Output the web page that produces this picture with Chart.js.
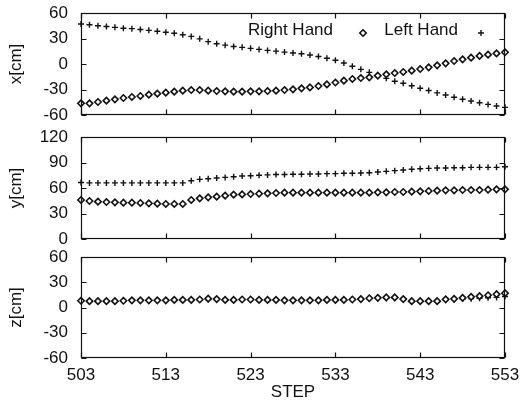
<!DOCTYPE html>
<html>
<head>
<meta charset="utf-8">
<title>Hand position per step</title>
<script src="https://cdn.jsdelivr.net/npm/chart.js@4"></script>
<style>
  html, body { margin: 0; padding: 0; background: #fff; }
  #wrap { position: relative; width: 520px; height: 405px; overflow: hidden; }
  #wrap canvas { position: absolute; left: 0; }
</style>
</head>
<body>
<div id="wrap">
  <canvas id="xChart" width="520" height="125" style="top:0"></canvas>
  <canvas id="yChart" width="520" height="125" style="top:125px"></canvas>
  <canvas id="zChart" width="520" height="155" style="top:250px"></canvas>
</div>
<script>
// steps on the shared horizontal axis
const steps = [
  503, 504, 505, 506, 507, 508, 509, 510, 511, 512,
  513, 514, 515, 516, 517, 518, 519, 520, 521, 522,
  523, 524, 525, 526, 527, 528, 529, 530, 531, 532,
  533, 534, 535, 536, 537, 538, 539, 540, 541, 542,
  543, 544, 545, 546, 547, 548, 549, 550, 551, 552,
  553
];
const stepTicks = [503, 513, 523, 533, 543, 553];
const posTicks = [-60, -30, 0, 30, 60];
const heightTicks = [0, 30, 60, 90, 120];

// x [cm]
const rightX = [
  -46.3, -46.3, -44.7, -43.1, -41.6, -40, -38.8, -37.6, -36.1, -34.9,
  -33.7, -32.5, -31.4, -30.6, -30.6, -31.4, -31.8, -32.2, -32.5, -32.5,
  -32.2, -32.2, -31.8, -31.4, -30.6, -29.8, -28.6, -27.5, -25.9, -24,
  -21.8, -19.6, -17.6, -16.5, -15.7, -13.7, -12.2, -10.6, -9.4, -7.8,
  -5.9, -3.9, -1.6, 0.8, 3.5, 5.5, 7.5, 9.5, 11, 12.5,
  13.8
];
const leftX = [
  47, 46.1, 45, 44.1, 43.1, 42.1, 41.6, 40.6, 39.6, 38.6,
  37.4, 36.2, 34.5, 32.5, 29.6, 26.3, 23.9, 22.2, 20.6, 19.6,
  18.4, 17.2, 16, 15.1, 14, 13, 12, 10.6, 8.8, 6.8,
  4.4, 1.2, -2.7, -6.3, -9.8, -13.7, -16.9, -20.3, -22.7, -25.5,
  -28.6, -31.2, -34, -36.5, -39.2, -41.5, -43.5, -45.5, -47.5, -49.4,
  -51
];

// y [cm]
const rightY = [
  45.9, 44.7, 43.9, 43.5, 43.1, 42.7, 42.7, 42.4, 42, 41.6,
  41.2, 41.2, 41.2, 45.9, 47.8, 49, 49.8, 51, 52.2, 52.5,
  52.9, 53.3, 53.7, 54.1, 54.5, 54.5, 54.5, 54.5, 54.5, 54.5,
  54.5, 54.5, 54.5, 54.5, 54.5, 54.9, 54.9, 55.3, 55.3, 55.7,
  56.1, 56.5, 56.9, 57.3, 57.3, 57.6, 57.6, 57.6, 58, 58.4,
  58.4
];
const leftY = [
  66.5, 66, 66, 66, 66, 66, 66, 66, 66, 66,
  66, 66, 66, 68.6, 70.2, 70.9, 71.8, 72.5, 73.3, 74.1,
  74.5, 75, 75.4, 75.8, 75.8, 76.1, 76.1, 76.5, 76.5, 76.9,
  76.9, 77.3, 77.3, 77.6, 78, 78.8, 79.6, 80.4, 81.2, 82,
  82.7, 83.1, 83.5, 83.5, 83.9, 83.9, 84.3, 84.3, 84.3, 84.3,
  85
];

// z [cm]
const rightZ = [
  8, 7.5, 7.5, 7.5, 7.5, 8, 8.5, 8.5, 8.5, 8.5,
  8.5, 9, 9, 9, 9.5, 10.5, 10, 9, 9, 9.5,
  9.5, 9, 9, 9, 8.5, 8.5, 8.5, 8.5, 8.5, 9,
  9, 9, 9.5, 10, 11, 11.5, 12, 12, 10, 7.5,
  7.5, 7.5, 7.5, 9.7, 10.3, 11.5, 12.7, 13.5, 14.6, 15.8,
  17
];
const leftZ = [
  8, 7.5, 7.5, 7.5, 7.5, 8, 8.5, 8.5, 8.5, 8.5,
  8.5, 9, 9, 9, 9.5, 9.5, 9.5, 9, 9, 9.5,
  9.5, 9, 9, 9, 8.5, 8.5, 8.5, 8.5, 8.5, 9,
  9, 9, 9.5, 10, 10.5, 11, 11, 11, 10, 7.5,
  7.5, 7.5, 7.5, 9, 9.5, 10, 10.5, 11, 11.5, 12,
  13
];

const INK = "#111";
const FONT = { family: "'Liberation Sans', Arial, Helvetica, sans-serif", size: 17 };

function toPoints(vals) {
  return steps.map((s, i) => ({ x: s, y: vals[i] }));
}

// -----------------------------
// marker helpers (legend samples)
// -----------------------------
function drawDiamond(ctx, x, y, r) {
  ctx.beginPath();
  ctx.moveTo(x, y - r);
  ctx.lineTo(x + r, y);
  ctx.lineTo(x, y + r);
  ctx.lineTo(x - r, y);
  ctx.closePath();
  ctx.fillStyle = "#fff";
  ctx.fill();
  ctx.stroke();
}

function drawPlus(ctx, x, y, r) {
  ctx.beginPath();
  ctx.moveTo(x - r, y);
  ctx.lineTo(x + r, y);
  ctx.moveTo(x, y - r);
  ctx.lineTo(x, y + r);
  ctx.stroke();
}

// box round the plot with short inward ticks on all four sides
function makeFrame(yTicks) {
  return {
    id: "frame",
    afterDatasetsDraw(chart) {
      const { ctx, chartArea: a, scales } = chart;
      const L = a.left + 0.5, R = a.right - 0.5, T = a.top + 0.5, B = a.bottom - 0.5;
      ctx.save();
      ctx.strokeStyle = INK;
      ctx.lineWidth = 1.2;
      ctx.strokeRect(L, T, R - L, B - T);
      ctx.beginPath();
      yTicks.forEach((v) => {
        const py = Math.round(scales.y.getPixelForValue(v)) + 0.5;
        ctx.moveTo(L, py); ctx.lineTo(L + 5, py);
        ctx.moveTo(R - 5, py); ctx.lineTo(R, py);
      });
      stepTicks.forEach((v) => {
        const px = Math.round(scales.x.getPixelForValue(v)) + 0.5;
        ctx.moveTo(px, B); ctx.lineTo(px, B - 5);
        ctx.moveTo(px, T); ctx.lineTo(px, T + 5);
      });
      ctx.stroke();
      ctx.restore();
    },
  };
}

// key in the upper right of the top panel: label first, then its marker
const keyPlugin = {
  id: "key",
  afterDraw(chart) {
    const { ctx, chartArea: a } = chart;
    ctx.save();
    ctx.font = `${FONT.size}px ${FONT.family}`;
    ctx.fillStyle = INK;
    ctx.strokeStyle = INK;
    ctx.textAlign = "right";
    ctx.textBaseline = "middle";
    ctx.fillText("Right Hand", a.right - 172, a.top + 17);
    ctx.fillText("Left Hand", a.right - 47, a.top + 17);
    ctx.lineWidth = 1.6;
    drawDiamond(ctx, a.right - 142, a.top + 20, 3.2);
    ctx.lineWidth = 1.4;
    drawPlus(ctx, a.right - 24, a.top + 20, 3);
    ctx.restore();
  },
};

function buildPanel(id, yTitle, yTicks, right, left, opts) {
  const plugins = [makeFrame(yTicks)];
  if (opts.key) plugins.push(keyPlugin);
  return new Chart(document.getElementById(id), {
    type: "scatter",
    data: {
      datasets: [
        {
          label: "Right Hand",
          data: toPoints(right),
          pointStyle: "rectRot",
          pointRadius: 3.2,
          borderColor: INK,
          backgroundColor: "#fff",
          borderWidth: 1.6,
          clip: false,
        },
        {
          label: "Left Hand",
          data: toPoints(left),
          pointStyle: "cross",
          pointRadius: 3,
          borderColor: INK,
          backgroundColor: INK,
          borderWidth: 1.4,
          clip: false,
        },
      ],
    },
    options: {
      responsive: false,
      animation: false,
      devicePixelRatio: 1,
      layout: { padding: { top: opts.top, bottom: opts.bottom, left: 0, right: 15 } },
      plugins: { legend: { display: false }, tooltip: { enabled: false } },
      scales: {
        x: {
          type: "linear",
          min: 503,
          max: 553,
          display: opts.showX,
          afterBuildTicks: (s) => { s.ticks = stepTicks.map((v) => ({ value: v })); },
          grid: { display: false, drawTicks: false },
          border: { display: false },
          ticks: { font: FONT, color: INK, padding: 7, maxRotation: 0, autoSkip: false },
          title: { display: opts.showX, text: "STEP", font: FONT, color: INK, padding: { top: 0, bottom: 2 } },
          afterFit: (s) => {
            if (opts.showX) s.height = 47;
            s.paddingLeft = 0;
            s.paddingRight = 0;
          },
        },
        y: {
          min: yTicks[0],
          max: yTicks[yTicks.length - 1],
          afterBuildTicks: (s) => { s.ticks = yTicks.map((v) => ({ value: v })); },
          grid: { display: false, drawTicks: false },
          border: { display: false },
          ticks: { font: FONT, color: INK, padding: 13 },
          title: { display: true, text: yTitle, font: FONT, color: INK, padding: { top: 6, bottom: 0 } },
          afterFit: (s) => {
            s.width = 81;
            s.paddingTop = 0;
            s.paddingBottom = 0;
          },
        },
      },
    },
    plugins,
  });
}

buildPanel("xChart", "x[cm]", posTicks, rightX, leftX, { top: 13, bottom: 10, showX: false, key: true });
buildPanel("yChart", "y[cm]", heightTicks, rightY, leftY, { top: 12, bottom: 11, showX: false });
buildPanel("zChart", "z[cm]", posTicks, rightZ, leftZ, { top: 7, bottom: 0, showX: true });
</script>
</body>
</html>
